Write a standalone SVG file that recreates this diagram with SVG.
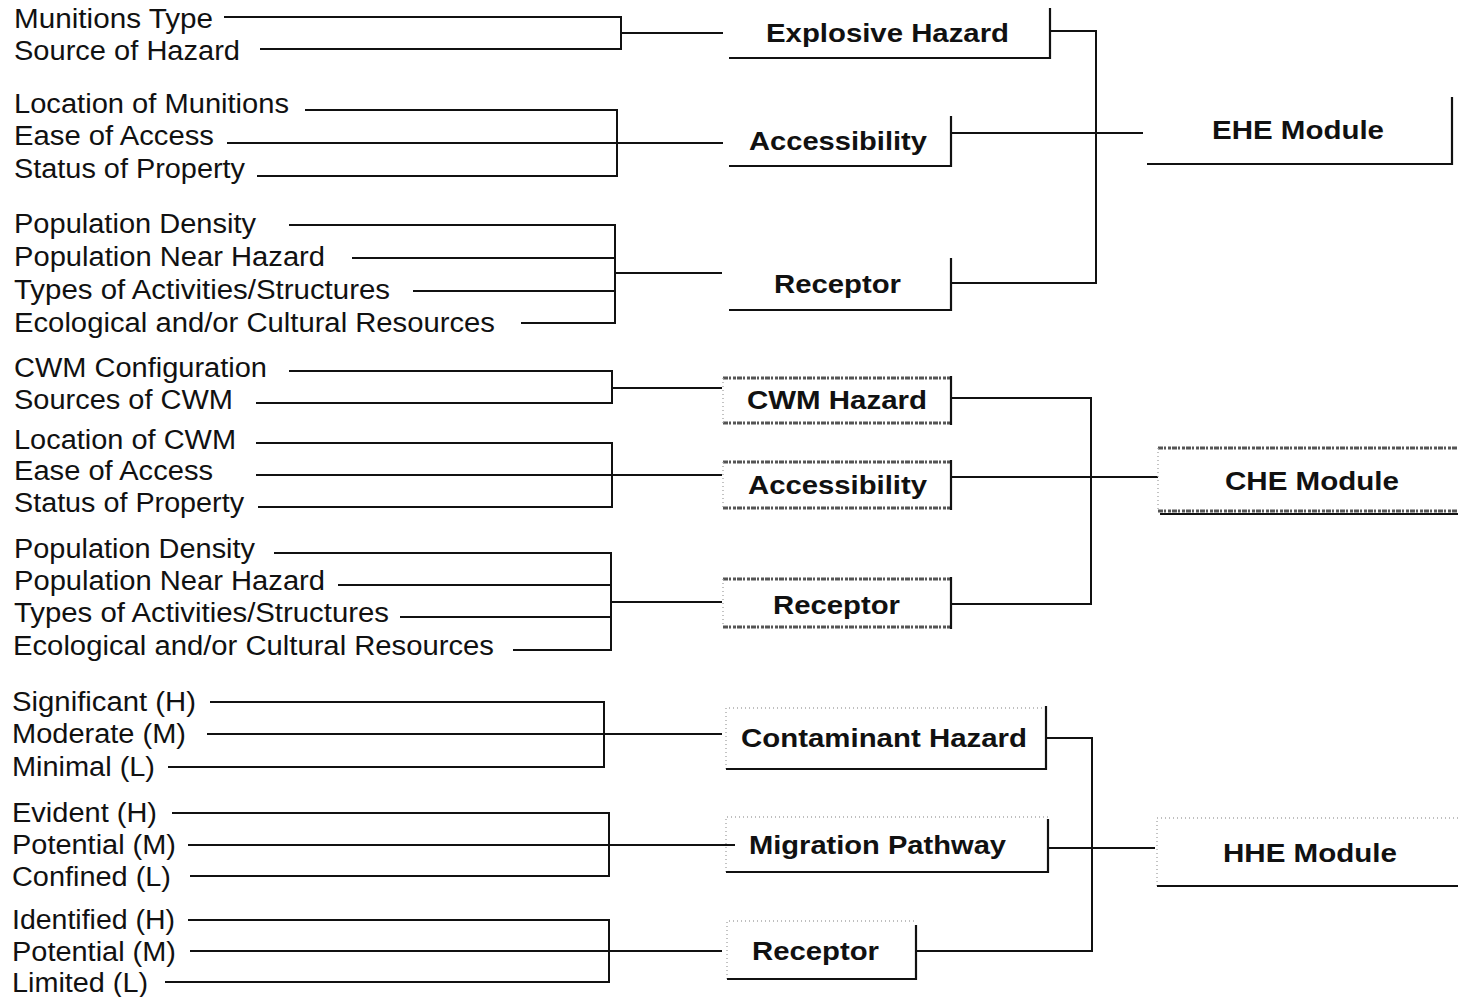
<svg xmlns="http://www.w3.org/2000/svg" width="1458" height="997" viewBox="0 0 1458 997">
<style>
.lbl{font-family:"Liberation Sans",Arial,sans-serif;font-size:27px;fill:#111}
.ttl{font-family:"Liberation Sans",Arial,sans-serif;font-size:26px;font-weight:bold;fill:#111}
.ln{stroke:#111;stroke-width:2;fill:none}
.edge{stroke:#111;stroke-width:2.2;fill:none}
.tex{stroke:#555;stroke-width:3;stroke-dasharray:5 1 2 2 3 1;fill:none}
.dot{stroke:#aaa;stroke-width:1.4;stroke-dasharray:1 3;fill:none}
</style>
<rect width="1458" height="997" fill="#fff"/>

<g id="connectors">
  <path class="ln" d="M224,17 H621 V49 H260 M621,33 H723"/>
  <path class="ln" d="M305,110 H617 V176 H257 M227,143 H723"/>
  <path class="ln" d="M289,225 H615 V323 H521 M352,258 H615 M413,291 H615 M615,273 H722"/>
  <path class="ln" d="M1050,31 H1096 V283 H951 M951,133 H1143"/>
  <path class="ln" d="M289,371 H612 V403 H256 M612,388 H722"/>
  <path class="ln" d="M256,443 H612 V507 H258 M256,475 H722"/>
  <path class="ln" d="M274,553 H611 V650 H513 M338,585 H611 M400,617 H611 M611,602 H722"/>
  <path class="ln" d="M951,398 H1091 V604 H951 M951,477 H1158"/>
  <path class="ln" d="M210,702 H604 V767 H168 M207,734 H722"/>
  <path class="ln" d="M172,813 H609 V876 H190 M188,845 H735"/>
  <path class="ln" d="M188,920 H609 V982 H165 M190,951 H722"/>
  <path class="ln" d="M1046,738 H1092 V951 H916 M1048,848 H1155"/>
</g>

<g id="lbl-munitions-type"><text class="lbl" x="14" y="28" textLength="199" lengthAdjust="spacingAndGlyphs">Munitions Type</text></g>
<g id="lbl-source-of-hazard"><text class="lbl" x="14" y="60" textLength="226" lengthAdjust="spacingAndGlyphs">Source of Hazard</text></g>
<g id="lbl-location-munitions"><text class="lbl" x="14" y="113" textLength="275" lengthAdjust="spacingAndGlyphs">Location of Munitions</text></g>
<g id="lbl-ease-access-1"><text class="lbl" x="14" y="145" textLength="200" lengthAdjust="spacingAndGlyphs">Ease of Access</text></g>
<g id="lbl-status-property-1"><text class="lbl" x="14" y="178" textLength="231" lengthAdjust="spacingAndGlyphs">Status of Property</text></g>
<g id="lbl-pop-density-1"><text class="lbl" x="14" y="233" textLength="242" lengthAdjust="spacingAndGlyphs">Population Density</text></g>
<g id="lbl-pop-near-1"><text class="lbl" x="14" y="266" textLength="311" lengthAdjust="spacingAndGlyphs">Population Near Hazard</text></g>
<g id="lbl-types-1"><text class="lbl" x="14" y="299" textLength="376" lengthAdjust="spacingAndGlyphs">Types of Activities/Structures</text></g>
<g id="lbl-eco-1"><text class="lbl" x="14" y="332" textLength="481" lengthAdjust="spacingAndGlyphs">Ecological and/or Cultural Resources</text></g>

<g id="lbl-cwm-config"><text class="lbl" x="14" y="377" textLength="253" lengthAdjust="spacingAndGlyphs">CWM Configuration</text></g>
<g id="lbl-sources-cwm"><text class="lbl" x="14" y="409" textLength="219" lengthAdjust="spacingAndGlyphs">Sources of CWM</text></g>
<g id="lbl-location-cwm"><text class="lbl" x="14" y="449" textLength="222" lengthAdjust="spacingAndGlyphs">Location of CWM</text></g>
<g id="lbl-ease-access-2"><text class="lbl" x="14" y="480" textLength="199" lengthAdjust="spacingAndGlyphs">Ease of Access</text></g>
<g id="lbl-status-property-2"><text class="lbl" x="14" y="512" textLength="230" lengthAdjust="spacingAndGlyphs">Status of Property</text></g>
<g id="lbl-pop-density-2"><text class="lbl" x="14" y="558" textLength="241" lengthAdjust="spacingAndGlyphs">Population Density</text></g>
<g id="lbl-pop-near-2"><text class="lbl" x="14" y="590" textLength="311" lengthAdjust="spacingAndGlyphs">Population Near Hazard</text></g>
<g id="lbl-types-2"><text class="lbl" x="14" y="622" textLength="375" lengthAdjust="spacingAndGlyphs">Types of Activities/Structures</text></g>
<g id="lbl-eco-2"><text class="lbl" x="13" y="655" textLength="481" lengthAdjust="spacingAndGlyphs">Ecological and/or Cultural Resources</text></g>

<g id="lbl-significant"><text class="lbl" x="12" y="711" textLength="184" lengthAdjust="spacingAndGlyphs">Significant (H)</text></g>
<g id="lbl-moderate"><text class="lbl" x="12" y="743" textLength="174" lengthAdjust="spacingAndGlyphs">Moderate (M)</text></g>
<g id="lbl-minimal"><text class="lbl" x="12" y="776" textLength="143" lengthAdjust="spacingAndGlyphs">Minimal (L)</text></g>
<g id="lbl-evident"><text class="lbl" x="12" y="822" textLength="145" lengthAdjust="spacingAndGlyphs">Evident (H)</text></g>
<g id="lbl-potential-1"><text class="lbl" x="12" y="854" textLength="164" lengthAdjust="spacingAndGlyphs">Potential (M)</text></g>
<g id="lbl-confined"><text class="lbl" x="12" y="886" textLength="159" lengthAdjust="spacingAndGlyphs">Confined (L)</text></g>
<g id="lbl-identified"><text class="lbl" x="12" y="929" textLength="163" lengthAdjust="spacingAndGlyphs">Identified (H)</text></g>
<g id="lbl-potential-2"><text class="lbl" x="12" y="961" textLength="164" lengthAdjust="spacingAndGlyphs">Potential (M)</text></g>
<g id="lbl-limited"><text class="lbl" x="12" y="992" textLength="136" lengthAdjust="spacingAndGlyphs">Limited (L)</text></g>

<g id="box-explosive-hazard">
  <path class="edge" d="M729,58 H1050 V8"/>
  <text class="ttl" x="766" y="42" textLength="243" lengthAdjust="spacingAndGlyphs">Explosive Hazard</text>
</g>
<g id="box-accessibility-ehe">
  <path class="edge" d="M729,166 H951 V116"/>
  <text class="ttl" x="749" y="150" textLength="178" lengthAdjust="spacingAndGlyphs">Accessibility</text>
</g>
<g id="box-receptor-ehe">
  <path class="edge" d="M729,310 H951 V258"/>
  <text class="ttl" x="774" y="293" textLength="127" lengthAdjust="spacingAndGlyphs">Receptor</text>
</g>
<g id="box-ehe-module">
  <path class="edge" d="M1147,164 H1452 V97"/>
  <text class="ttl" x="1212" y="139" textLength="172" lengthAdjust="spacingAndGlyphs">EHE Module</text>
</g>

<g id="box-cwm-hazard">
  <path class="tex" d="M723,378 H951 M723,423 H951"/>
  <path class="dot" d="M723,378 V423"/>
  <path class="edge" d="M951,376 V425"/>
  <text class="ttl" x="747" y="409" textLength="180" lengthAdjust="spacingAndGlyphs">CWM Hazard</text>
</g>
<g id="box-accessibility-che">
  <path class="tex" d="M723,462 H951 M723,508 H951"/>
  <path class="dot" d="M723,462 V508"/>
  <path class="edge" d="M951,460 V510"/>
  <text class="ttl" x="748" y="494" textLength="179" lengthAdjust="spacingAndGlyphs">Accessibility</text>
</g>
<g id="box-receptor-che">
  <path class="tex" d="M723,579 H951 M723,627 H951"/>
  <path class="dot" d="M723,579 V627"/>
  <path class="edge" d="M951,577 V629"/>
  <text class="ttl" x="773" y="614" textLength="127" lengthAdjust="spacingAndGlyphs">Receptor</text>
</g>
<g id="box-che-module">
  <path class="tex" d="M1158,448 H1458 M1158,511 H1458"/>
  <path class="dot" d="M1158,448 V512"/>
  <path class="edge" d="M1160,514 H1458"/>
  <text class="ttl" x="1225" y="490" textLength="174" lengthAdjust="spacingAndGlyphs">CHE Module</text>
</g>

<g id="box-contaminant-hazard">
  <path class="dot" d="M726,769 V708 H1046"/>
  <path class="edge" d="M726,769 H1046 V706"/>
  <text class="ttl" x="741" y="747" textLength="286" lengthAdjust="spacingAndGlyphs">Contaminant Hazard</text>
</g>
<g id="box-migration-pathway">
  <path class="dot" d="M726,872 V817 H1048"/>
  <path class="edge" d="M726,872 H1048 V819"/>
  <text class="ttl" x="749" y="854" textLength="257" lengthAdjust="spacingAndGlyphs">Migration Pathway</text>
</g>
<g id="box-receptor-hhe">
  <path class="dot" d="M727,979 V921 H916"/>
  <path class="edge" d="M727,979 H916 V925"/>
  <text class="ttl" x="752" y="960" textLength="127" lengthAdjust="spacingAndGlyphs">Receptor</text>
</g>
<g id="box-hhe-module">
  <path class="dot" d="M1157,886 V818 H1458"/>
  <path class="edge" d="M1157,886 H1458"/>
  <text class="ttl" x="1223" y="862" textLength="174" lengthAdjust="spacingAndGlyphs">HHE Module</text>
</g>
</svg>
